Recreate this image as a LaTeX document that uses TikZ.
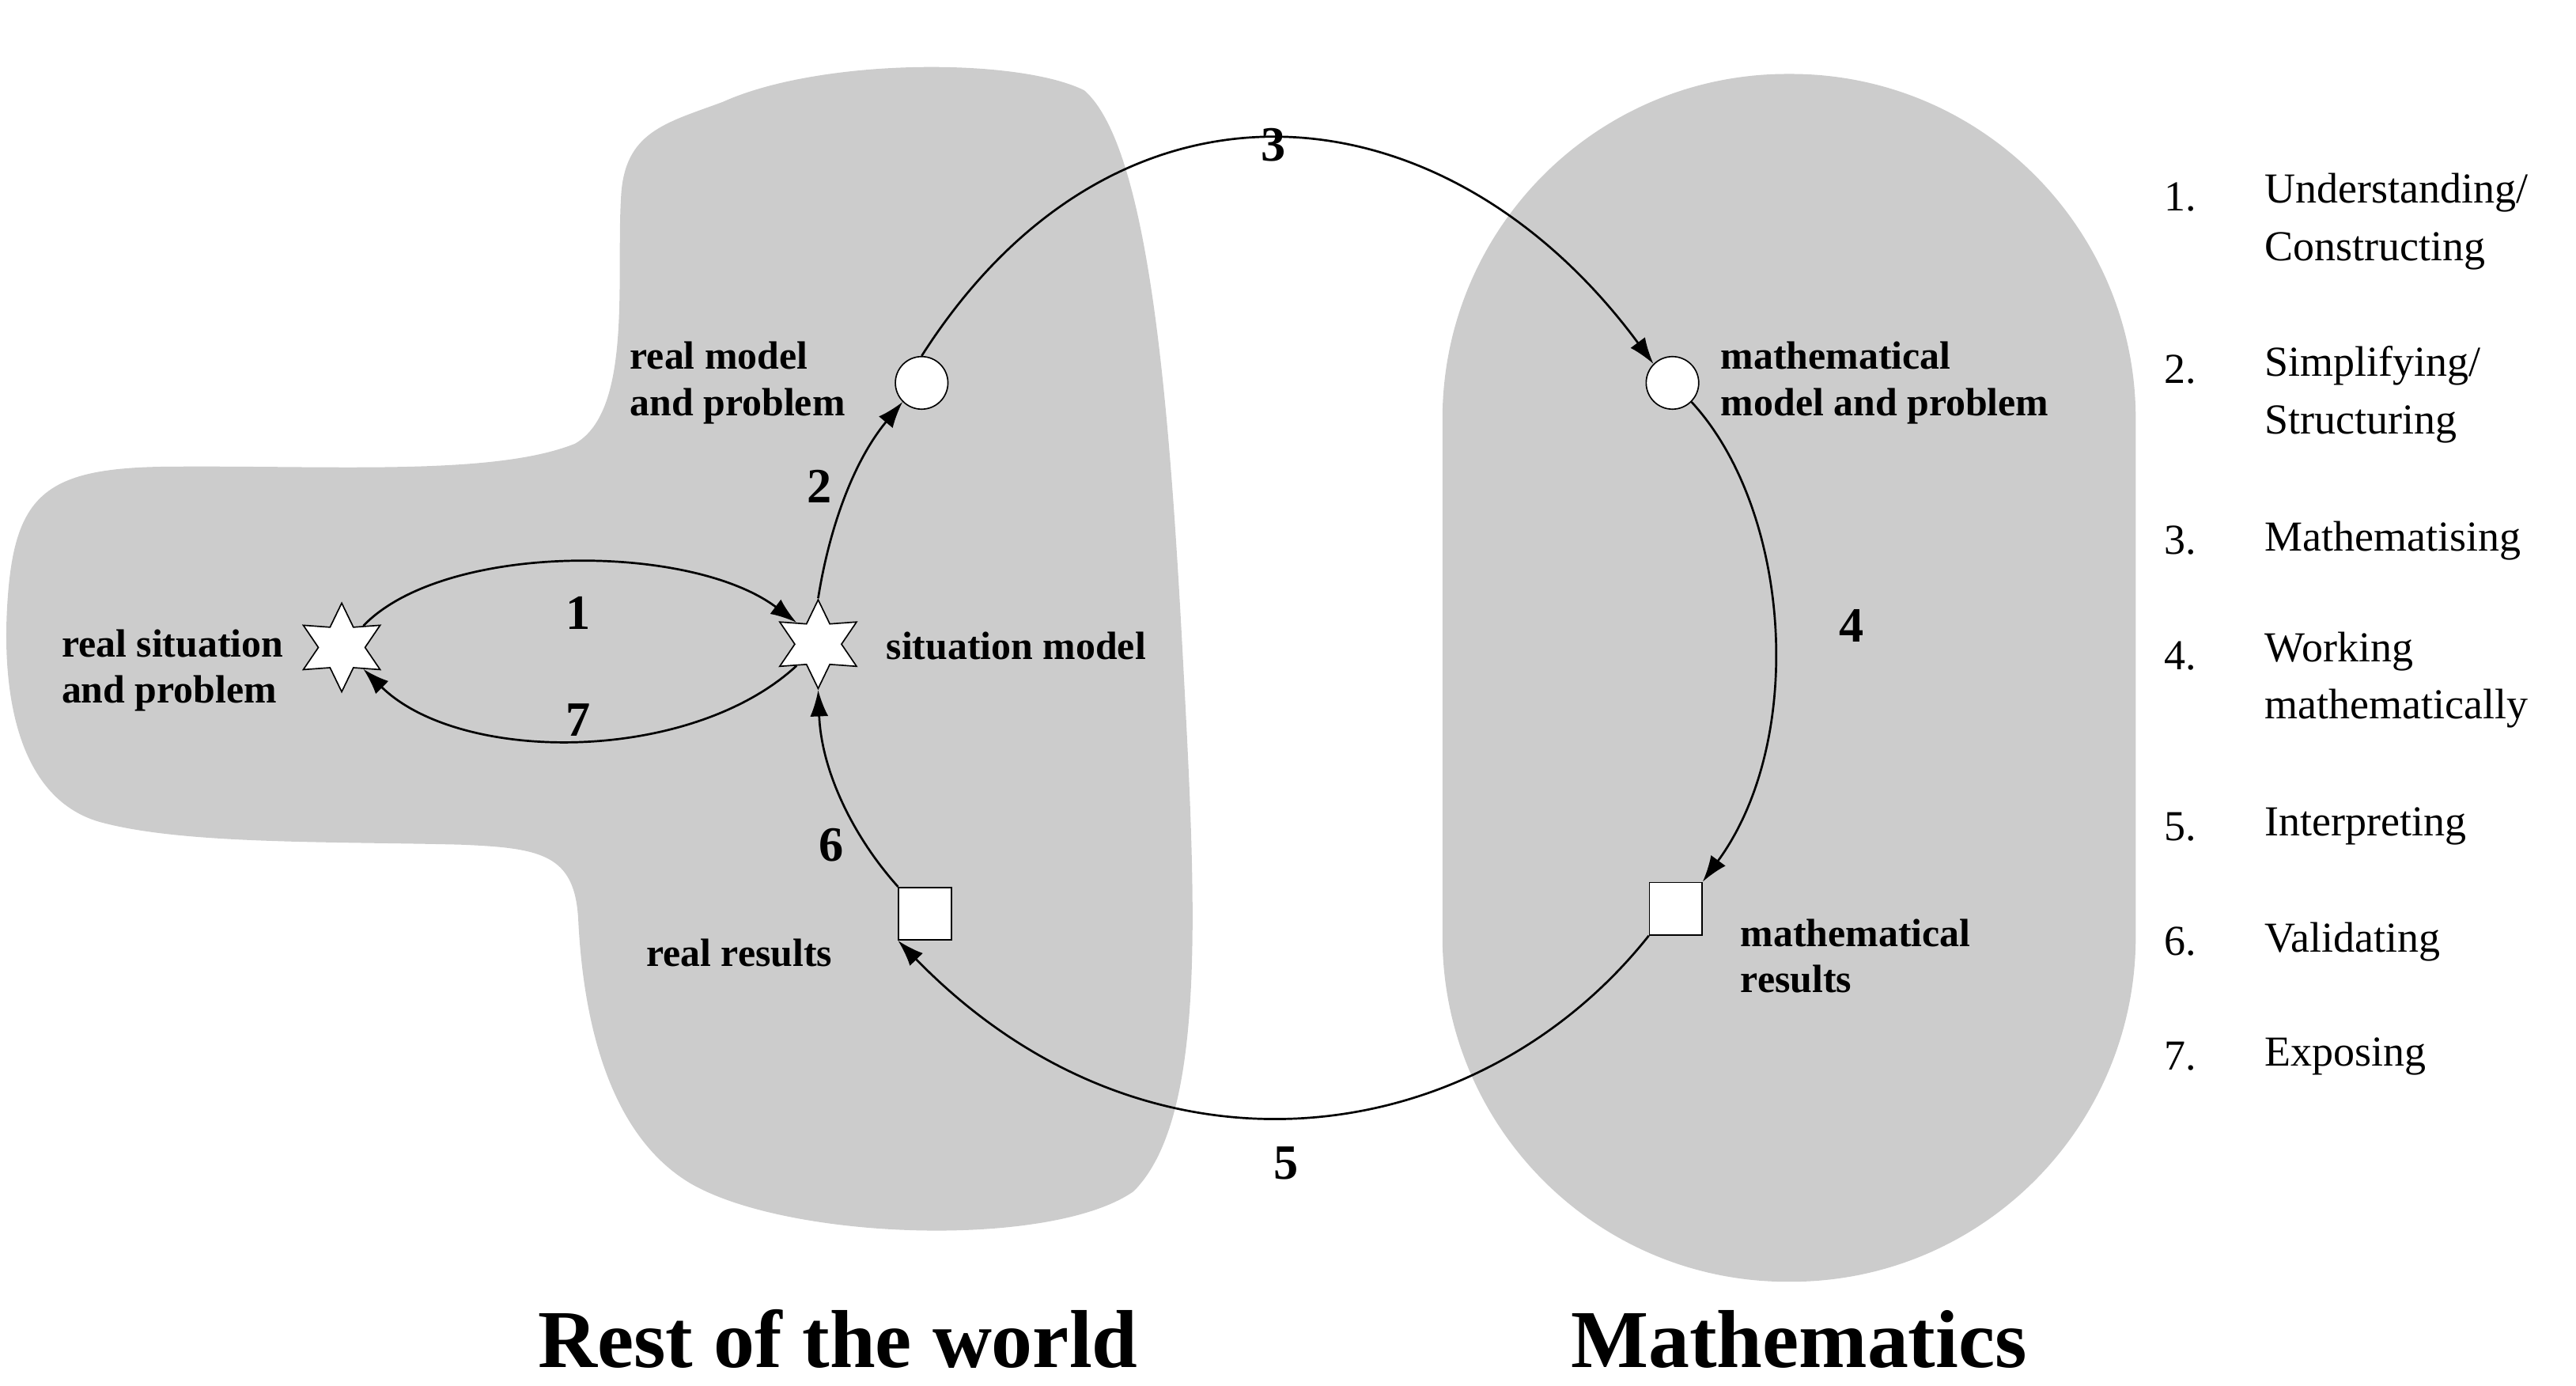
\documentclass[tikz,border=0pt]{standalone}
\usepackage{fontspec}
\setmainfont{Liberation Serif}
\usetikzlibrary{shapes.geometric,arrows.meta}
\definecolor{blob}{HTML}{CCCCCC}
\begin{document}
\begin{tikzpicture}[x=1pt,y=-1pt,
  lbl/.style={font=\fontsize{24}{28}\selectfont\bfseries,align=left},
  num/.style={font=\fontsize{30}{34}\selectfont\bfseries},
  lst/.style={font=\fontsize{26}{35}\selectfont,anchor=west},
  starnode/.style={star,star points=6,star point ratio=1.9,minimum size=54pt,draw,fill=white,line width=0.8pt},
  circnode/.style={circle,draw,fill=white,minimum size=32pt,inner sep=0,line width=0.8pt},
  sqnode/.style={rectangle,draw,fill=white,minimum size=32pt,inner sep=0,line width=0.8pt},
  arr/.style={line width=1.3pt,-{Latex[length=16pt,width=11pt]}}]
\useasboundingbox (0,0) rectangle (1568,843);
% blobs
\fill[blob] (440,62) .. controls (500,35) and (620,35) .. (660,55)
  .. controls (700,90) and (712,250) .. (720,400)
  .. controls (728,550) and (735,680) .. (690,725)
  .. controls (640,760) and (480,755) .. (420,720)
  .. controls (370,690) and (355,620) .. (352,560)
  .. controls (350,520) and (330,516) .. (280,514)
  .. controls (200,512) and (110,514) .. (60,500)
  .. controls (10,485) and (0,420) .. (5,360)
  .. controls (10,300) and (30,285) .. (100,284)
  .. controls (200,283) and (300,290) .. (350,270)
  .. controls (385,250) and (375,170) .. (378,120)
  .. controls (380,80) and (405,75) .. (440,62) -- cycle;
\fill[blob, rounded corners=210pt] (878,45) rectangle (1300,780);
% nodes
\node[starnode] (rs) at (208,394) {};
\node[starnode] (sm) at (498,392) {};
\node[circnode] (rm) at (561,233) {};
\node[circnode] (mm) at (1018,233) {};
\node[sqnode] (mr) at (1020,553) {};
\node[sqnode] (rr) at (563,556) {};
% arrows
\draw[arr] (rs.north east) .. controls (270,330) and (420,330) .. (sm.north west);
\draw[arr] (sm.south west) .. controls (420,465) and (280,465) .. (rs.south east);
\draw[arr] (sm.north) .. controls (505,320) and (520,280) .. (rm.south west);
\draw[arr] (rm.north) .. controls (680,30) and (880,50) .. (mm.north west);
\draw[arr] (mm.south east) .. controls (1090,310) and (1100,450) .. (mr.north east);
\draw[arr] (mr.south west) .. controls (900,700) and (700,730) .. (rr.south west);
\draw[arr] (rr.north west) .. controls (520,510) and (500,470) .. (sm.south);
% numbers
\node[num] (n3) at (775,88) {3};
\node[num] (n2) at (499,296) {2};
\node[num] (n1) at (352,373) {1};
\node[num] (n7) at (352,438) {7};
\node[num] (n4) at (1127,381) {4};
\node[num] (n6) at (506,514) {6};
\node[num] (n5) at (783,708) {5};
% labels
\node[lbl,anchor=east] (l1) at (518,233) {real model\\and problem};
\node[lbl,anchor=west] (l2) at (1044,233) {mathematical\\model and problem};
\node[lbl,anchor=east] (l3) at (176,408) {real situation\\and problem};
\node[lbl,anchor=west] (l4) at (536,393) {situation model};
\node[lbl] (l5) at (450,580) {real results};
\node[lbl,anchor=west] (l6) at (1056,582) {mathematical\\results};
% titles
\node[font=\fontsize{50}{56}\selectfont\bfseries] (t1) at (510,815) {Rest of the world};
\node[font=\fontsize{50}{56}\selectfont\bfseries] (t2) at (1095,815) {Mathematics};
% list
\foreach \n/\y in {1/120,2/225,3/329,4/399,5/503,6/573,7/643}{
  \node[lst] (k\n) at (1314,\y) {\n.};}
\node[lst,align=left,anchor=north west] (d1) at (1375,102) {Understanding/\\Constructing};
\node[lst,align=left,anchor=north west] (d2) at (1375,207) {Simplifying/\\Structuring};
\node[lst] (d3) at (1375,329) {Mathematising};
\node[lst,align=left,anchor=north west] (d4) at (1375,381) {Working\\mathematically};
\node[lst] (d5) at (1375,503) {Interpreting};
\node[lst] (d6) at (1375,573) {Validating};
\node[lst] (d7) at (1375,643) {Exposing};
\end{tikzpicture}
\end{document}
